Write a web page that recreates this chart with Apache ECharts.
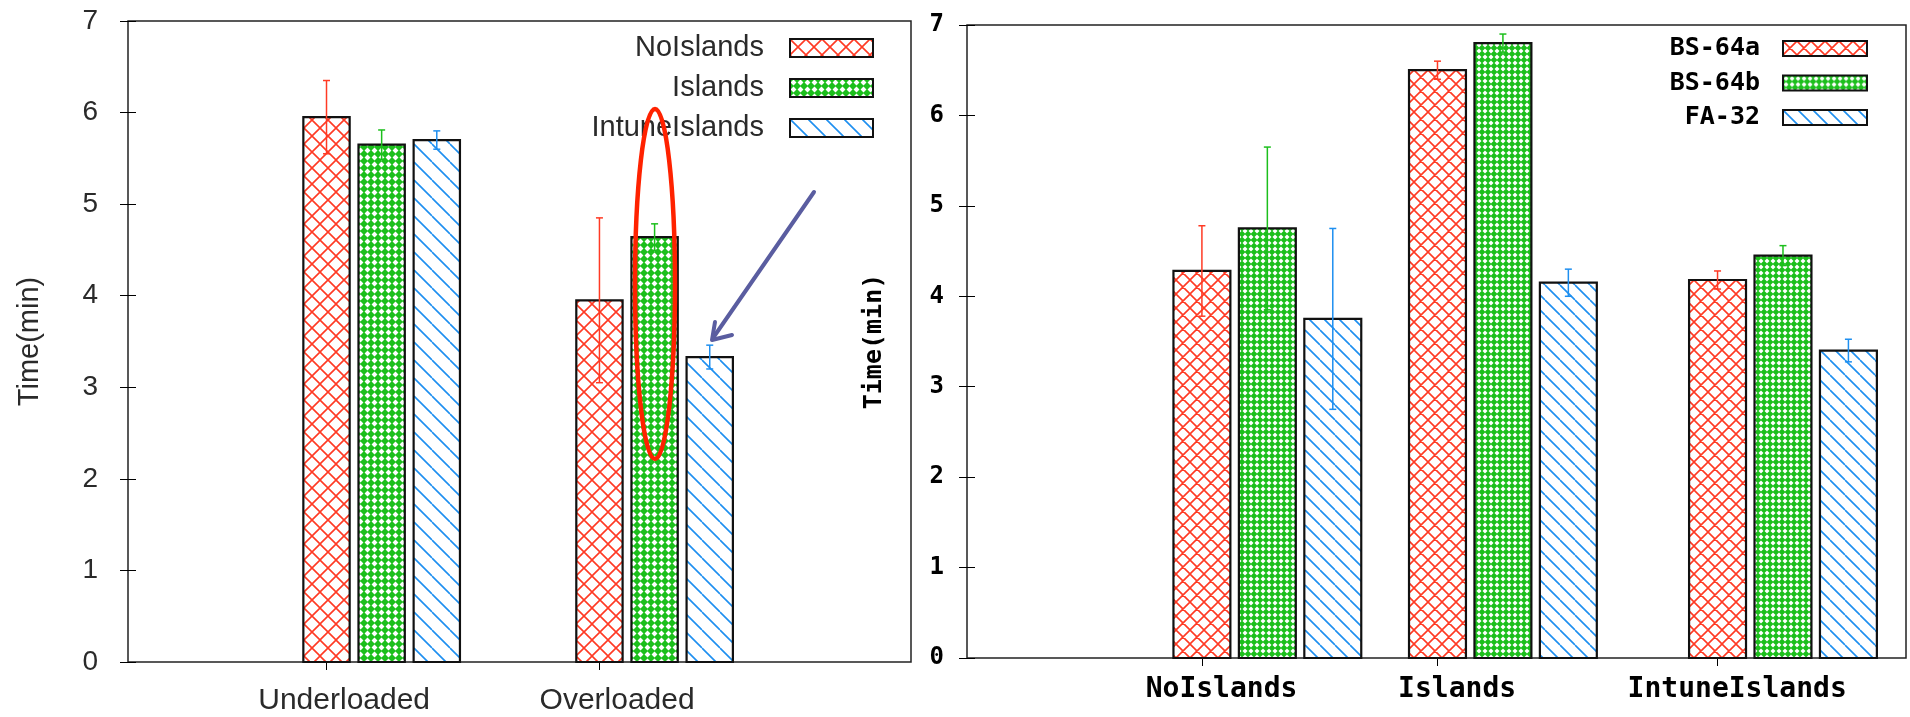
<!DOCTYPE html>
<html>
<head>
<meta charset="utf-8">
<title>Time(min)</title>
<script src="https://cdn.jsdelivr.net/npm/echarts@6/dist/echarts.min.js"></script>
<style>
  html, body { margin: 0; padding: 0; background: #fff; }
  #main { width: 1910px; height: 717px; }
</style>
</head>
<body>
<div id="main"></div>
<script>
// ---- left panel: load scenarios ----
var loadCats = ['Underloaded', 'Overloaded'];
var loadPos = [3.6, 8.55];            // x of the first bar in each cluster (tick position)
var noIslands = [5.95, 3.95];
var noIslandsErr = [0.40, 0.90];
var islands = [5.65, 4.64];
var islandsErr = [0.16, 0.145];
var intuneIslands = [5.70, 3.33];
var intuneIslandsErr = [0.10, 0.13];

// ---- right panel: island modes ----
var modeCats = ['NoIslands', 'Islands', 'IntuneIslands'];
var modePos = [3.59, 7.19, 11.47];
var bs64a = [4.28, 6.50, 4.18];
var bs64aErr = [0.50, 0.10, 0.10];
var bs64b = [4.75, 6.80, 4.45];
var bs64bErr = [0.90, 0.10, 0.11];
var fa32 = [3.75, 4.15, 3.40];
var fa32Err = [1.00, 0.15, 0.125];

var RED = '#ff3a24', GREEN = '#1cbf1c', BLUE = '#1e8ff0';

// fill tiles, gnuplot style
function tile(kind, size, color) {
  var c = document.createElement('canvas');
  c.width = size; c.height = size;
  var g = c.getContext('2d');
  g.fillStyle = '#fff';
  g.fillRect(0, 0, size, size);
  if (kind === 'mesh') {
    g.fillStyle = color;
    g.fillRect(0, 0, size, size);
    var h = size / 2, r = size * 0.42;
    g.fillStyle = '#fff';
    g.beginPath();
    g.moveTo(h, h - r); g.lineTo(h + r, h); g.lineTo(h, h + r); g.lineTo(h - r, h);
    g.closePath();
    g.fill();
  } else {
    g.strokeStyle = color;
    g.lineWidth = 1.6;
    g.beginPath();
    for (var k = -1; k <= 1; k++) {
      g.moveTo(k * size, 0); g.lineTo(k * size + size, size);
      if (kind === 'cross') { g.moveTo(k * size + size, 0); g.lineTo(k * size, size); }
    }
    g.stroke();
  }
  return { image: c, repeat: 'repeat' };
}

var fills = {
  lRed: tile('cross', 16, RED), lGreen: tile('mesh', 7, GREEN), lBlue: tile('hatch', 18, BLUE),
  rRed: tile('cross', 14, RED), rGreen: tile('mesh', 6, GREEN), rBlue: tile('hatch', 15, BLUE)
};

function barSeries(name, xi, yi, pos, vals, errs, slot, fill, errColor, barW) {
  return {
    name: name,
    type: 'custom',
    xAxisIndex: xi,
    yAxisIndex: yi,
    itemStyle: { color: fill, borderColor: '#000', borderWidth: 2 },
    encode: { x: 0, y: 1 },
    data: vals.map(function (v, i) { return [pos[i] + slot, v, errs[i]]; }),
    renderItem: function (params, api) {
      var x = api.value(0), v = api.value(1), e = api.value(2);
      var base = api.coord([x, 0]), top = api.coord([x, v]);
      var hi = api.coord([x, v + e]), lo = api.coord([x, v - e]);
      var w = api.size([barW, 0])[0];
      var cap = 3.5;
      return {
        type: 'group',
        children: [
          { type: 'rect', shape: { x: base[0] - w / 2, y: top[1], width: w, height: base[1] - top[1] },
            style: { fill: fill, stroke: '#111', lineWidth: 2.2 } },
          { type: 'line', shape: { x1: hi[0], y1: hi[1], x2: lo[0], y2: lo[1] },
            style: { stroke: errColor, lineWidth: 1.5 } },
          { type: 'line', shape: { x1: hi[0] - cap, y1: hi[1], x2: hi[0] + cap, y2: hi[1] },
            style: { stroke: errColor, lineWidth: 1.5 } },
          { type: 'line', shape: { x1: lo[0] - cap, y1: lo[1], x2: lo[0] + cap, y2: lo[1] },
            style: { stroke: errColor, lineWidth: 1.5 } }
        ]
      };
    }
  };
}

function catLabels(cats, pos, shift, font) {
  return Object.assign({
    customValues: pos.map(function (p) { return p + shift; }),
    formatter: function (v) {
      for (var i = 0; i < pos.length; i++) {
        if (Math.abs(pos[i] + shift - v) < 1e-3) return cats[i];
      }
      return '';
    }
  }, font);
}

var lightFont = { fontFamily: 'Liberation Sans', color: '#2a2a2a' };
var monoFont = { fontFamily: 'DejaVu Sans Mono', fontWeight: 'bold', color: '#000' };

function xAxes(grid, max, pos, cats, shift, labelFont) {
  return [
    { gridIndex: grid, type: 'value', min: 0, max: max,
      axisLine: { show: false }, splitLine: { show: false },
      axisTick: { show: true, inside: true, length: 8, customValues: pos, lineStyle: { color: '#000' } },
      axisLabel: catLabels(cats, pos, shift, labelFont) },
    { gridIndex: grid, type: 'value', position: 'top', min: 0, max: max,
      axisLine: { show: false }, splitLine: { show: false }, axisLabel: { show: false },
      axisTick: { show: true, inside: true, length: 8, customValues: pos, lineStyle: { color: '#000' } } }
  ];
}

function yAxes(grid, label, nameFont, nameGap) {
  var tick = { show: true, inside: true, length: 8, lineStyle: { color: '#000' } };
  return [
    { gridIndex: grid, type: 'value', min: 0, max: 7, interval: 1,
      axisLine: { show: false }, splitLine: { show: false }, axisTick: tick,
      axisLabel: label,
      name: 'Time(min)', nameLocation: 'middle', nameRotate: 90, nameGap: nameGap,
      nameTextStyle: nameFont },
    { gridIndex: grid, type: 'value', position: 'right', min: 0, max: 7, interval: 1,
      axisLine: { show: false }, splitLine: { show: false }, axisTick: tick,
      axisLabel: { show: false } }
  ];
}

var chart = echarts.init(document.getElementById('main'));

chart.setOption({
  backgroundColor: '#fff',
  animation: false,
  grid: [
    { left: 128, top: 21, width: 783, height: 641, show: true, borderColor: '#222', borderWidth: 1.5 },
    { left: 967, top: 25, width: 939, height: 633, show: true, borderColor: '#222', borderWidth: 1.5 }
  ],
  xAxis: [].concat(
    xAxes(0, 14.2, loadPos, loadCats, 0.32, Object.assign({ fontSize: 30, margin: 24 }, lightFont)),
    xAxes(1, 14.35, modePos, modeCats, 0.3, Object.assign({ fontSize: 28, margin: 18 }, monoFont))
  ),
  yAxis: [].concat(
    yAxes(0, Object.assign({ fontSize: 28, margin: 30 }, lightFont),
      Object.assign({ fontSize: 29 }, lightFont), 84),
    yAxes(1, Object.assign({ fontSize: 24, margin: 23 }, monoFont),
      Object.assign({ fontSize: 25 }, monoFont), 80)
  ),
  legend: [
    { orient: 'vertical', align: 'right', right: 1036, top: 33, padding: 0,
      itemWidth: 83, itemHeight: 18, itemGap: 10, icon: 'rect', selectedMode: false,
      textStyle: Object.assign({ fontSize: 29, lineHeight: 30, padding: [0, 21, 0, 0] }, lightFont),
      data: [
        { name: 'NoIslands', itemStyle: { color: fills.lRed, borderColor: '#111', borderWidth: 2 } },
        { name: 'Islands', itemStyle: { color: fills.lGreen, borderColor: '#111', borderWidth: 2 } },
        { name: 'IntuneIslands', itemStyle: { color: fills.lBlue, borderColor: '#111', borderWidth: 2 } }
      ] },
    { orient: 'vertical', align: 'right', right: 42, top: 36, padding: 0,
      itemWidth: 84, itemHeight: 15, itemGap: 9.5, icon: 'rect', selectedMode: false,
      textStyle: Object.assign({ fontSize: 25, lineHeight: 20, padding: [0, 18, 0, 0] }, monoFont),
      data: [
        { name: 'BS-64a', itemStyle: { color: fills.rRed, borderColor: '#111', borderWidth: 2 } },
        { name: 'BS-64b', itemStyle: { color: fills.rGreen, borderColor: '#111', borderWidth: 2 } },
        { name: 'FA-32', itemStyle: { color: fills.rBlue, borderColor: '#111', borderWidth: 2 } }
      ] }
  ],
  series: [
    barSeries('NoIslands', 0, 0, loadPos, noIslands, noIslandsErr, 0, fills.lRed, RED, 0.84),
    barSeries('Islands', 0, 0, loadPos, islands, islandsErr, 1, fills.lGreen, GREEN, 0.84),
    barSeries('IntuneIslands', 0, 0, loadPos, intuneIslands, intuneIslandsErr, 2, fills.lBlue, BLUE, 0.84),
    barSeries('BS-64a', 2, 2, modePos, bs64a, bs64aErr, 0, fills.rRed, RED, 0.87),
    barSeries('BS-64b', 2, 2, modePos, bs64b, bs64bErr, 1, fills.rGreen, GREEN, 0.87),
    barSeries('FA-32', 2, 2, modePos, fa32, fa32Err, 2, fills.rBlue, BLUE, 0.87)
  ],
  // hand-drawn annotations over the left panel
  graphic: [
    { type: 'ellipse', z: 100, shape: { cx: 655, cy: 284, rx: 20, ry: 175 },
      style: { fill: null, stroke: '#ff2200', lineWidth: 4.5 } },
    { type: 'line', z: 100, shape: { x1: 814, y1: 192, x2: 713, y2: 338 },
      style: { stroke: '#5a5da0', lineWidth: 4, lineCap: 'round' } },
    { type: 'polyline', z: 100, shape: { points: [[715, 322], [712, 340], [732, 335]] },
      style: { stroke: '#5a5da0', lineWidth: 4, lineCap: 'round', lineJoin: 'round', fill: null } }
  ]
});

window.onresize = chart.resize;
</script>
</body>
</html>
